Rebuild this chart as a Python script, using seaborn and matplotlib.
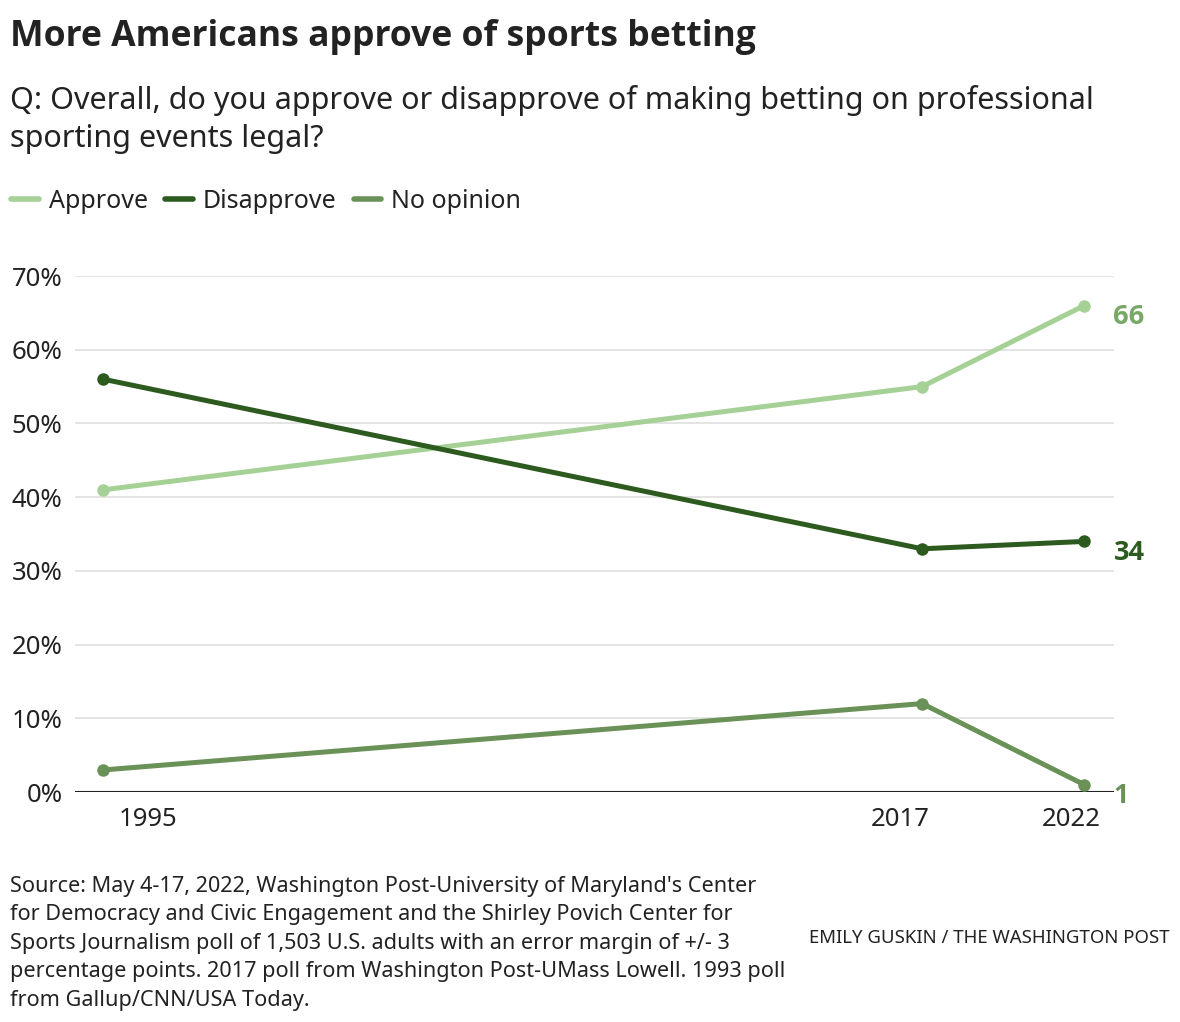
import pandas as pd
import matplotlib
matplotlib.use("Agg")
import matplotlib.pyplot as plt
from matplotlib.lines import Line2D
import seaborn as sns

# poll dates as fractional years (1993 Gallup, Aug 2017, May 2022)
years = [1993.70, 2017.64, 2022.38]
approve = [41, 55, 66]
disapprove = [56, 33, 34]
no_opinion = [3, 12, 1]
responses = ["Approve", "Disapprove", "No opinion"]
line_colors = ["#a5d196", "#2d5a1e", "#6a9158"]
label_colors = ["#78a866", "#2d5a1e", "#6a9158"]
year_ticks = [1995, 2017, 2022]
pct_ticks = [0, 10, 20, 30, 40, 50, 60, 70]

df = pd.DataFrame({
    "year": years * 3,
    "pct": approve + disapprove + no_opinion,
    "response": [r for r in responses for _ in years],
})

sns.set_style("white")
plt.rcParams["font.family"] = ["Noto Sans", "DejaVu Sans"]
bold_font = ["Open Sans", "Roboto", "DejaVu Sans"]
txt = "#222222"

fig = plt.figure(figsize=(11.8, 10.22), dpi=100)
ax = fig.add_axes([0.0636, 0.2250, 0.8805, 0.5049])

palette = dict(zip(responses, line_colors))
sns.lineplot(data=df, x="year", y="pct", hue="response", palette=palette,
             marker="o", markersize=9, markeredgewidth=0, linewidth=3.6,
             legend=False, ax=ax, clip_on=False, zorder=3)

ax.set_xlim(1992.87, 2023.25)
ax.set_ylim(0, 70)
ax.set_yticks(pct_ticks)
ax.set_yticklabels([f"{v}%" for v in pct_ticks])
ax.set_xticks(year_ticks)
ax.set_xticklabels([str(y) for y in year_ticks])
ax.tick_params(axis="y", length=0, pad=9, labelsize=18.5, labelcolor=txt)
ax.tick_params(axis="x", length=0, pad=11, labelsize=18.5, labelcolor=txt)
ax.set_xlabel("")
ax.set_ylabel("")
for s in ax.spines.values():
    s.set_visible(False)
for v in pct_ticks[1:]:
    ax.axhline(v, color="#dcdcdc", lw=1.1, zorder=1)
ax.axhline(0, color="#222222", lw=1.5, zorder=2)

# end labels
ends = [approve[-1], disapprove[-1], no_opinion[-1]]
for v, c in zip(ends, label_colors):
    ax.annotate(str(v), xy=(years[-1], v), xytext=(21, -8),
                textcoords="offset points", ha="left", va="center",
                fontsize=19.5, fontweight="bold", family=bold_font,
                color=c, annotation_clip=False)

fig.text(0.0085, 1 - 46 / 1022, "More Americans approve of sports betting",
         fontsize=25.6, fontweight="bold", family=bold_font, color=txt, va="baseline")
fig.text(0.0085, 1 - 147 / 1022,
         "Q: Overall, do you approve or disapprove of making betting on professional\nsporting events legal?",
         fontsize=22, color=txt, va="baseline", linespacing=1.33)

handles = [Line2D([0], [0], color=c, lw=4, solid_capstyle="round") for c in line_colors]
fig.legend(handles, responses, loc="center left", bbox_to_anchor=(0.003, 1 - 201 / 1022),
           frameon=False, ncol=3, fontsize=18, handlelength=1.1, handletextpad=0.4,
           columnspacing=0.7, labelcolor=txt, borderaxespad=0, borderpad=0.3)

source = ("Source: May 4-17, 2022, Washington Post-University of Maryland's Center\n"
          "for Democracy and Civic Engagement and the Shirley Povich Center for\n"
          "Sports Journalism poll of 1,503 U.S. adults with an error margin of +/- 3\n"
          "percentage points. 2017 poll from Washington Post-UMass Lowell. 1993 poll\n"
          "from Gallup/CNN/USA Today.")
fig.text(0.0085, 1 - 1006 / 1022, source, fontsize=15.6, color=txt, va="baseline",
         linespacing=1.47)
fig.text(0.991, 1 - 943 / 1022, "EMILY GUSKIN / THE WASHINGTON POST",
         fontsize=13.4, color=txt, ha="right", va="baseline")

fig.savefig("out.png", dpi=100)
